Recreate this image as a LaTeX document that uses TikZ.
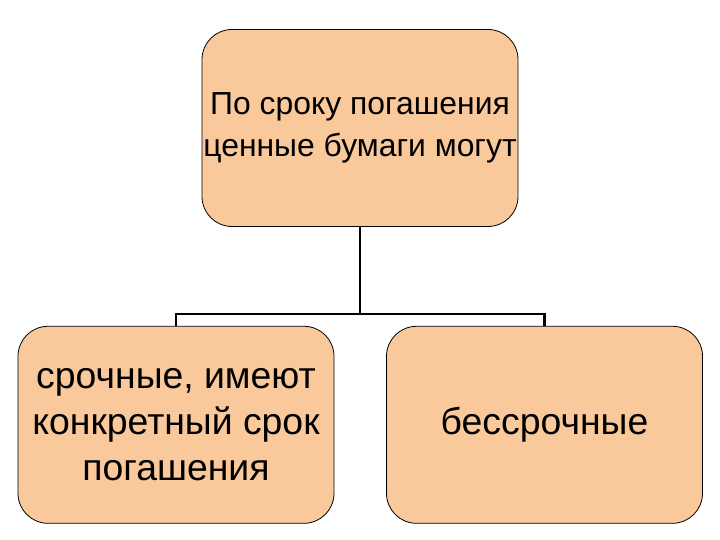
\documentclass[tikz,border=0pt]{standalone}
\usepackage{fontspec}
\setmainfont{Liberation Sans}
\usepackage{xcolor}
\usepackage{tikz}
\usetikzlibrary{positioning}
\definecolor{bondfill}{HTML}{FAC99B}
\definecolor{bondline}{HTML}{000000}
\tikzstyle{termbox} = [rectangle, draw=bondline, line width=0.8pt, rounded corners=30bp,
    fill=bondfill, align=center, minimum width=316bp, minimum height=197bp, inner sep=0pt]
\tikzstyle{conn} = [draw=bondline, line width=2.2pt]

\begin{document}
\begin{tikzpicture}[x=1bp, y=1bp, node distance=99bp]
\useasboundingbox (0,0) rectangle (720,-540);
\node[termbox, font=\fontsize{32}{42}\selectfont] (top) at (360,-128)
  {По сроку погашения\\ценные бумаги могут};
\node[termbox, below=of top, xshift=-184bp, font=\fontsize{37.5}{46}\selectfont] (urgent)
  {срочные, имеют\\конкретный срок\\погашения};
\node[termbox, below=of top, xshift=184.5bp, font=\fontsize{37.5}{46}\selectfont] (perpetual)
  {бессрочные};

\draw[conn] (top.south) -- ++(0,-87) coordinate (fork);
\draw[conn] (urgent.north) |- (fork) -| (perpetual.north);
\end{tikzpicture}
\end{document}
